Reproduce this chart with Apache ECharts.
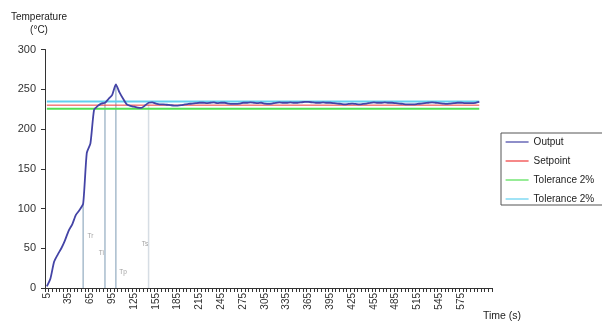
<!DOCTYPE html>
<html>
<head>
<meta charset="utf-8">
<script src="https://cdn.jsdelivr.net/npm/echarts@6/dist/echarts.min.js"></script>
<style>html,body{margin:0;padding:0;background:#fff;}#c{width:602px;height:333px;}</style>
</head>
<body>
<div id="c"></div>
<script>
// Time categories (s); the axis runs a little past the last sample
var timeCats = [];
for (var t = 5; t <= 615; t += 5) timeCats.push(String(t));
var lastLabelledTime = 600;

// Output temperature (°C), one value per 5 s from 5 s to 600 s
var outputValues = [
  2, 12, 33, 42, 50, 60, 72, 80, 92, 98,
  106, 170, 182, 224, 229, 232, 233, 238, 243, 256,
  246, 238, 231, 229, 228, 227, 226.5, 229.5, 233, 233.5,
  232, 231, 231, 230.5, 230, 229.5, 229.5, 230, 231, 231.5,
  232, 232.5, 233, 233, 232.5, 233, 233.5, 232.5, 233, 233,
  232, 231.5, 231.5, 232, 233, 233, 233.5, 233, 232.5, 233,
  232, 231.5, 232, 233, 233.5, 233, 233, 233.5, 233, 233,
  233.5, 234, 234, 233.5, 233, 233, 233.5, 233, 233, 232.5,
  232, 231.5, 231, 231.5, 232, 231.5, 231, 231.5, 232, 233,
  233.5, 233, 233, 233.5, 233, 233, 232.5, 232, 231.5, 231,
  231, 231, 231.5, 232, 232.5, 233, 233.5, 233, 232.5, 232,
  231.5, 232, 232.5, 233, 233, 232.5, 232.5, 232.5, 233, 234
];

// Reference lines (start/end category and values)
var refLineCats = ['5', '600'];
var setpointValues = [230, 230];
var tolLowValues = [225.4, 225.4];
var tolHighValues = [234.6, 234.6];

// Drop lines (category, top value)
var dropCats = ['55', '85', '100', '145'];
var dropTops = [106, 233, 256, 232];

// Annotation labels
var annoNames = ['Tr', 'Ti', 'Tp', 'Ts'];
var annoCats = ['65', '80', '110', '140'];
var annoValues = [65, 44, 20, 55];

// Legend / series names
var seriesNames = ['Output', 'Setpoint', 'Tolerance 2%', 'Tolerance 2% '];

// Y ticks
var yMin = 0, yMax = 300, yStep = 50;

var FONT = "'Liberation Sans', Arial, sans-serif";

function pairs(cats, vals) {
  return cats.map(function (c, i) { return [c, vals[i]]; });
}

var series = [];
var dropColors = ['#a8bccd', '#a8bccd', '#a8bccd', '#d6dde4'];
dropCats.forEach(function (c, i) {
  series.push({
    type: 'line', name: 'drop' + i, data: [[c, yMin], [c, dropTops[i]]],
    symbol: 'none', silent: true, z: 1,
    lineStyle: { color: dropColors[i], width: 1.5 }
  });
});
series.push({
  type: 'line', name: seriesNames[2], data: pairs(refLineCats, tolLowValues),
  symbol: 'none', z: 2, color: '#52e052', lineStyle: { color: '#52e052', width: 2 }
});
series.push({
  type: 'line', name: seriesNames[3], data: pairs(refLineCats, tolHighValues),
  symbol: 'none', z: 2, color: '#62d0f0', lineStyle: { color: '#62d0f0', width: 2 }
});
series.push({
  type: 'line', name: seriesNames[1], data: pairs(refLineCats, setpointValues),
  symbol: 'none', z: 3, color: '#f03a3a', lineStyle: { color: '#f03a3a', width: 1 }
});
series.push({
  type: 'line', name: seriesNames[0], data: outputValues,
  symbol: 'none', z: 4, smooth: 0.2, color: '#4444a6', lineStyle: { color: '#4444a6', width: 1.8 }
});
series.push({
  type: 'scatter', name: 'anno', silent: true, symbolSize: 0, z: 5,
  data: annoCats.map(function (c, i) { return { name: annoNames[i], value: [c, annoValues[i]] }; }),
  label: { show: true, position: 'inside', formatter: '{b}', fontSize: 6.5, color: '#888', fontFamily: FONT }
});

var chart = echarts.init(document.getElementById('c'), null, { renderer: 'canvas' });
chart.setOption({
  animation: false,
  backgroundColor: '#fff',
  textStyle: { fontFamily: FONT },
  title: {
    text: 'Time (s)', left: 483, top: 311, padding: 0,
    textStyle: { fontSize: 10.5, fontWeight: 'normal', color: '#222', fontFamily: FONT }
  },
  grid: { left: 45, right: 110, top: 49.5, bottom: 45, containLabel: false },
  legend: {
    data: [seriesNames[0], seriesNames[1], seriesNames[2], seriesNames[3]],
    orient: 'vertical', left: 501, top: 133,
    padding: [4, 30, 1, 4],
    itemWidth: 23, itemHeight: 12, itemGap: 9,
    borderColor: '#555', borderWidth: 1,
    itemStyle: { opacity: 0 },
    lineStyle: { width: 1.2, opacity: 1 },
    textStyle: { fontSize: 10, color: '#222', fontFamily: FONT }
  },
  xAxis: {
    type: 'category', data: timeCats, boundaryGap: true,
    axisLine: { show: true, lineStyle: { color: '#333', width: 1 } },
    axisTick: { show: true, interval: 0, length: 4, inside: false, lineStyle: { color: '#333' } },
    axisLabel: {
      interval: 5, rotate: 90, fontSize: 10, color: '#333', margin: 5, fontFamily: FONT,
      formatter: function (v) { return Number(v) > lastLabelledTime ? '' : v; }
    },
    splitLine: { show: false }
  },
  yAxis: {
    type: 'value', min: yMin, max: yMax, interval: yStep,
    name: 'Temperature\n(°C)', nameLocation: 'end', nameGap: 13,
    nameTextStyle: { fontSize: 10, color: '#222', align: 'center', lineHeight: 13, padding: [0, 12, 0, 0], fontFamily: FONT },
    axisLine: { show: true, lineStyle: { color: '#333', width: 1 } },
    axisTick: { show: true, length: 4, lineStyle: { color: '#333' } },
    axisLabel: { fontSize: 11, color: '#333', margin: 9, fontFamily: FONT },
    splitLine: { show: false }
  },
  series: series
});
</script>
</body>
</html>
